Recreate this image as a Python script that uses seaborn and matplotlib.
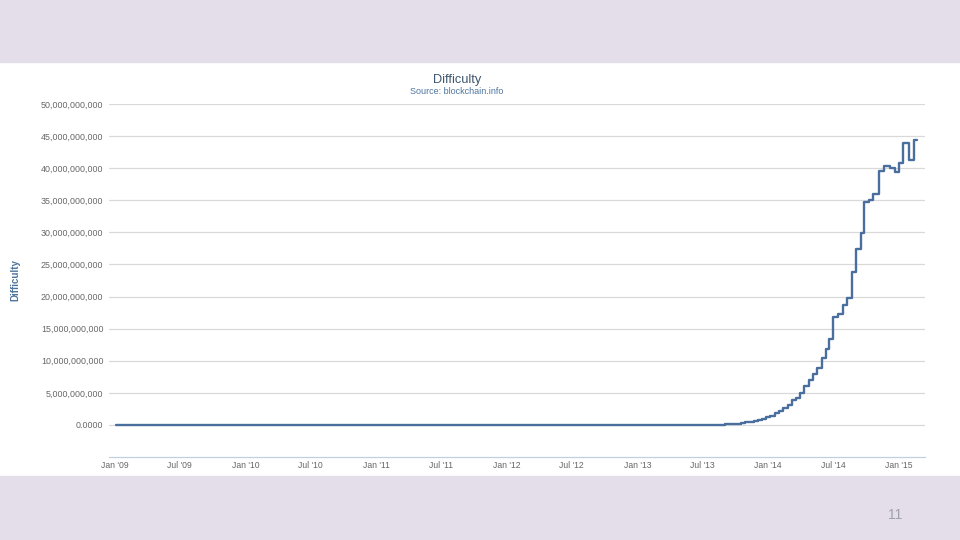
import numpy as np
import pandas as pd
import seaborn as sns
import matplotlib
matplotlib.use('Agg')
import matplotlib.pyplot as plt
import matplotlib.dates as mdates
from matplotlib.ticker import FuncFormatter


# difficulty steps (date of change, value in billions)
step_dates = [
    '2009-01-03', '2010-01-01', '2010-07-01', '2011-01-01', '2011-07-01',
    '2012-01-01', '2012-07-01', '2013-01-01', '2013-07-01', '2013-09-01',
    '2013-10-05', '2013-10-17', '2013-10-29', '2013-11-10', '2013-11-22',
    '2013-12-03', '2013-12-14', '2013-12-26', '2014-01-07', '2014-01-19',
    '2014-01-31', '2014-02-12', '2014-02-24', '2014-03-08', '2014-03-20',
    '2014-04-01', '2014-04-12', '2014-04-24', '2014-05-06', '2014-05-18',
    '2014-05-30', '2014-06-10', '2014-06-21', '2014-07-02', '2014-07-15',
    '2014-07-28', '2014-08-10', '2014-08-22', '2014-09-04', '2014-09-16',
    '2014-09-26', '2014-10-10', '2014-10-21', '2014-11-07', '2014-11-21',
    '2014-12-07', '2014-12-21', '2015-01-02', '2015-01-13', '2015-01-30',
    '2015-02-13', '2015-02-20',
]
difficulty_bn = [
    0.0, 0.0, 0.0, 0.00002, 0.0016,
    0.0012, 0.0019, 0.0033, 0.026, 0.087,
    0.19, 0.27, 0.39, 0.51, 0.61,
    0.71, 0.91, 1.18, 1.42, 1.79,
    2.19, 2.62, 3.13, 3.82, 4.25,
    5.0, 6.12, 7.0, 8.0, 8.85,
    10.45, 11.76, 13.46, 16.82, 17.34,
    18.74, 19.73, 23.84, 27.43, 29.9,
    34.66, 35.0, 35.99, 39.6, 40.3,
    40.0, 39.46, 40.8, 44.0, 41.27,
    44.46, 44.46,
]

x_ticks = ['2009-01-01', '2009-07-01', '2010-01-01', '2010-07-01', '2011-01-01',
           '2011-07-01', '2012-01-01', '2012-07-01', '2013-01-01', '2013-07-01',
           '2014-01-01', '2014-07-01', '2015-01-01']
y_ticks = [0, 5e9, 10e9, 15e9, 20e9, 25e9, 30e9, 35e9, 40e9, 45e9, 50e9]

df = pd.DataFrame({'date': pd.to_datetime(step_dates),
                   'difficulty': np.array(difficulty_bn) * 1e9})

sns.set_theme(style='white')
plt.rcParams['font.family'] = ['Liberation Sans', 'DejaVu Sans']

fig = plt.figure(figsize=(9.6, 5.4), dpi=100)
band = '#E4DEEB'
fig.patches.append(plt.Rectangle((0, 0.885), 1, 0.115, transform=fig.transFigure,
                                 color=band, zorder=0))
fig.patches.append(plt.Rectangle((0, 0), 1, 0.119, transform=fig.transFigure,
                                 color=band, zorder=0))

ax = fig.add_axes([0.1135, 0.1537, 0.85, 0.6537])
sns.lineplot(data=df, x='date', y='difficulty', ax=ax, color='#4A6F9E',
             linewidth=1.7, drawstyle='steps-post')

ax.set_ylim(-5e9, 50e9)
ax.set_xlim(pd.Timestamp('2008-12-15'), pd.Timestamp('2015-03-15'))
ax.set_yticks(y_ticks)
ax.yaxis.set_major_formatter(FuncFormatter(
    lambda v, p: '0.0000' if v == 0 else f'{v:,.0f}'))
ax.set_xticks(pd.to_datetime(x_ticks))
ax.xaxis.set_major_formatter(mdates.DateFormatter("%b '%y"))
ax.grid(axis='y', color='#D9D9D9', linewidth=0.9)
ax.set_axisbelow(True)
for s in ['top', 'right', 'left']:
    ax.spines[s].set_visible(False)
ax.spines['bottom'].set_color('#C0D0E0')
ax.spines['bottom'].set_linewidth(0.9)
ax.tick_params(axis='y', length=0, labelsize=6.4, labelcolor='#666666', pad=4)
ax.tick_params(axis='x', length=0, labelsize=6.2,
               labelcolor='#666666', pad=3, bottom=True)
ax.set_xlabel('')
ax.set_ylabel('')

fig.text(0.016, 0.4815, 'Difficulty', rotation=90, ha='center', va='center',
         fontsize=7, color='#4D759E', fontweight='bold')
fig.text(0.476, 0.851, 'Difficulty', ha='center', va='center',
         fontsize=9.2, color='#3E576F')
fig.text(0.476, 0.831, 'Source: blockchain.info', ha='center', va='center',
         fontsize=6.5, color='#4D759E')
fig.text(0.932, 0.047, '11', ha='center', va='center', fontsize=10,
         color='#A0A0A8')

fig.savefig('out.png', dpi=100)
